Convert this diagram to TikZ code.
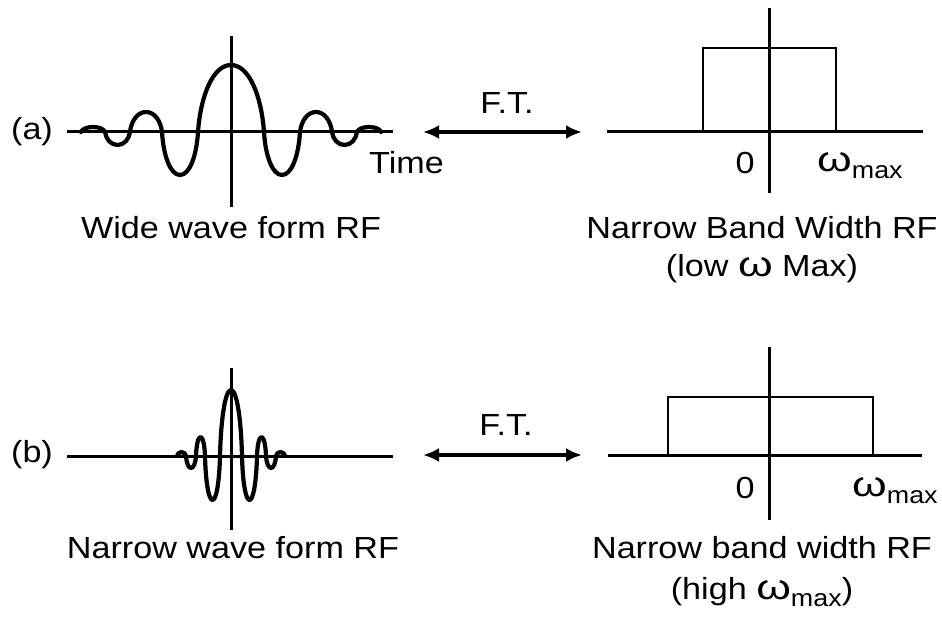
\documentclass[tikz,border=0pt]{standalone}
\usepackage{fontspec}
\setmainfont{Liberation Sans}
\usetikzlibrary{arrows.meta}
\newcommand\stretchtxt[1]{\scalebox{1.12}[1]{#1}}
\newcommand\omg{\scalebox{1.3}[1.15]{ω}}
\newcommand\wmax{\omg\raisebox{-7pt}{\fontsize{24}{28}\selectfont max}}
\begin{document}
\begin{tikzpicture}[x=1pt,y=-1pt,
  axisline/.style={line width=3pt},
  wave/.style={line width=4.2pt, line join=round, line cap=round},
  band/.style={line width=2.8pt},
  lbl/.style={font=\fontsize{30.5}{36}\selectfont, inner sep=0pt},
  ftarrow/.style={line width=3.8pt, {Latex[length=16pt,width=14pt]}-{Latex[length=16pt,width=14pt]}},
  lobe/.style n args={4}{insert path={
    .. controls ({#1+0.04*(#2-#1)},{#4+0.55*(#3)}) and ({(#1+#2)/2-0.27*(#2-#1)},{#4+#3})
    .. ({(#1+#2)/2},{#4+#3})
    .. controls ({(#1+#2)/2+0.27*(#2-#1)},{#4+#3}) and ({#2-0.04*(#2-#1)},{#4+0.55*(#3)})
    .. (#2,#4)}}]
\useasboundingbox (0,0) rectangle (942,620);

% ---------- row (a) ----------
\node[lbl] (la) at (32,132) {\stretchtxt{(a)}};
\coordinate (ahl) at (67,132);  \coordinate (ahr) at (393,132);
\coordinate (avt) at (231,36);  \coordinate (avb) at (231,207);
\draw[axisline] (ahl) -- (ahr);
\draw[axisline] (avt) -- (avb);
\draw[wave] (81,132) [lobe={81}{105}{-5}{132}] [lobe={105}{130}{13}{132}]
  [lobe={130}{162}{-20}{132}] [lobe={162}{198}{43}{132}]
  [lobe={198}{264}{-67}{132}] [lobe={264}{300}{43}{132}]
  [lobe={300}{332}{-20}{132}] [lobe={332}{357}{13}{132}]
  [lobe={357}{381}{-5}{132}];
\node[lbl, anchor=west] (time) at (369,163) {\stretchtxt{Time}};
\node[lbl] (wide) at (231,228) {\stretchtxt{Wide wave form RF}};

\node[lbl] (fta) at (507,103) {\stretchtxt{F.T.}};
\coordinate (ftaL) at (423,132); \coordinate (ftaR) at (582,132);
\draw[ftarrow] (ftaL) -- (ftaR);

\coordinate (bhl) at (607,132); \coordinate (bhr) at (923,132);
\coordinate (bvt) at (769,8);   \coordinate (bvb) at (769,193);
\draw[axisline] (bhl) -- (bhr);
\draw[axisline] (bvt) -- (bvb);
\draw[band] (703,132) -- (703,48) -- (836,48) -- (836,132);
\node[lbl, anchor=base] (za) at (745,174) {\stretchtxt{0}};
\node[lbl, anchor=base west] (wa) at (817,172) {\stretchtxt{\wmax}};
\node[lbl] (nbw) at (762,228) {\stretchtxt{Narrow Band Width RF}};
\node[lbl] (low) at (762,269) {\stretchtxt{(low \omg{} Max)}};

% ---------- row (b) ----------
\node[lbl] (lb) at (32,455) {\stretchtxt{(b)}};
\coordinate (chl) at (67,456);  \coordinate (chr) at (393,456);
\coordinate (cvt) at (231,368); \coordinate (cvb) at (231,530);
\draw[axisline] (chl) -- (chr);
\draw[axisline] (cvt) -- (cvb);
\draw[wave] (177,456) [lobe={177}{186}{-4}{456}] [lobe={186}{196}{12}{456}]
  [lobe={196}{205}{-19}{456}] [lobe={205}{220}{44}{456}]
  [lobe={220}{242}{-66}{456}] [lobe={242}{257}{44}{456}]
  [lobe={257}{266}{-19}{456}] [lobe={266}{276}{12}{456}]
  [lobe={276}{285}{-4}{456}];
\node[lbl] (narrow) at (233,548) {\stretchtxt{Narrow wave form RF}};

\node[lbl] (ftb) at (506,425) {\stretchtxt{F.T.}};
\coordinate (ftbL) at (423,455); \coordinate (ftbR) at (582,455);
\draw[ftarrow] (ftbL) -- (ftbR);

\coordinate (dhl) at (608,455); \coordinate (dhr) at (922,455);
\coordinate (dvt) at (769,347); \coordinate (dvb) at (769,520);
\draw[axisline] (dhl) -- (dhr);
\draw[axisline] (dvt) -- (dvb);
\draw[band] (668,455) -- (668,397) -- (873,397) -- (873,455);
\node[lbl, anchor=base] (zb) at (745,498) {\stretchtxt{0}};
\node[lbl, anchor=base west] (wb) at (852,496) {\stretchtxt{\wmax}};
\node[lbl] (nbw2) at (762,548) {\stretchtxt{Narrow band width RF}};
\node[lbl] (high) at (762,592) {\stretchtxt{(high \wmax)}};
\end{tikzpicture}
\end{document}
